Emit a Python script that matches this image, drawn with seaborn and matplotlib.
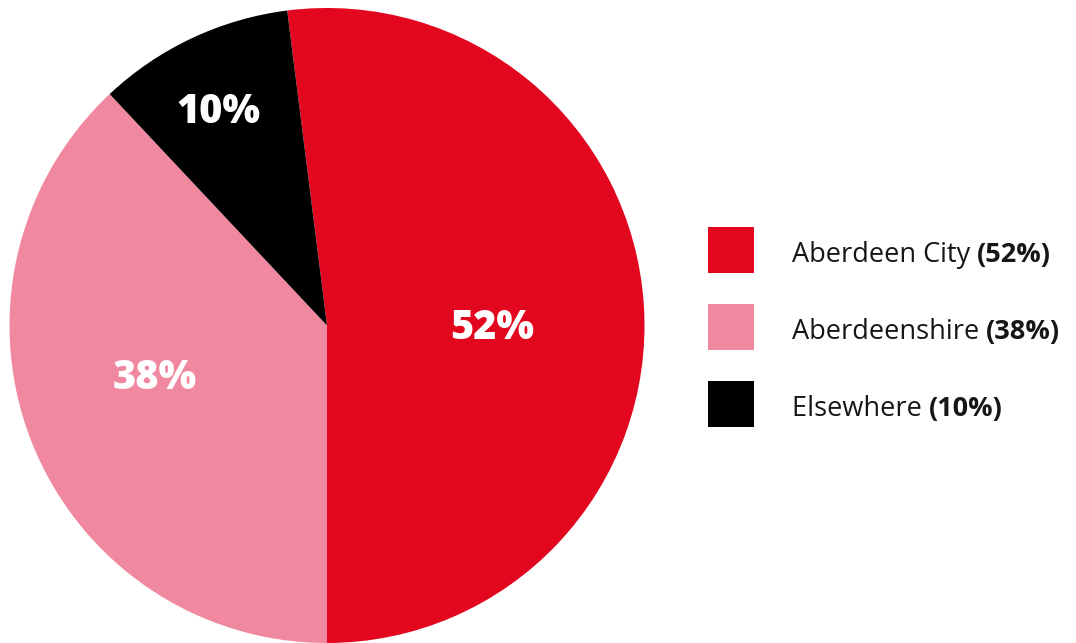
import matplotlib
matplotlib.use("Agg")
import matplotlib.pyplot as plt
from matplotlib.patches import Rectangle
import numpy as np
import seaborn as sns

# Where respondents live
regions = ["Aberdeen City", "Aberdeenshire", "Elsewhere"]
shares = [52, 38, 10]
colors = ["#E2061E", "#F088A0", "#000000"]

# Label anchor (baseline centre) as (radius fraction, angle in degrees)
label_polar = [(0.5215, -4.7), (0.577, 200.3), (0.724, 118.3)]

sns.set_theme(style="white")
plt.rcParams["font.family"] = ["Open Sans", "DejaVu Sans"]

W, H = 1076, 643
fig = plt.figure(figsize=(W / 100, H / 100), dpi=100)
fig.patch.set_facecolor("white")

# Pie axes: centre at (327, 325.5) px, radius 317.5 px
cx, cy, r = 327, 325.5, 317.5
ax = fig.add_axes([(cx - r) / W, (H - cy - r) / H, 2 * r / W, 2 * r / H])
wedges, _ = ax.pie(shares, colors=colors, startangle=97.2, counterclock=False,
                   radius=1, wedgeprops=dict(linewidth=0))
ax.set_xlim(-1, 1)
ax.set_ylim(-1, 1)
ax.set_aspect("auto")
ax.axis("off")

for val, (d, a) in zip(shares, label_polar):
    ang = np.deg2rad(a)
    ax.text(d * np.cos(ang), d * np.sin(ang), f"{val}%", color="white",
            fontsize=28.5, fontweight="heavy", ha="center", va="baseline")

# Legend with mixed-weight labels
sq = 46
x_sq = 708
y_tops = [227, 304, 381]
x_txt = 792
txt_col = "#161616"
renderer = fig.canvas.get_renderer()
for name, val, col, yt in zip(regions, shares, colors, y_tops):
    fig.patches.append(Rectangle((x_sq / W, (H - yt - sq) / H), sq / W, sq / H,
                                 transform=fig.transFigure, facecolor=col,
                                 edgecolor="none"))
    yb = (H - (yt + sq / 2 + 12)) / H
    t = fig.text(x_txt / W, yb, name + " ", fontsize=19.5, color=txt_col,
                 ha="left", va="baseline")
    bb = t.get_window_extent(renderer=renderer)
    fig.text(bb.x1 / W, yb, f"({val}%)", fontsize=19.5, fontweight="bold",
             color=txt_col, ha="left", va="baseline")

fig.savefig("out.png", dpi=100, facecolor="white")
